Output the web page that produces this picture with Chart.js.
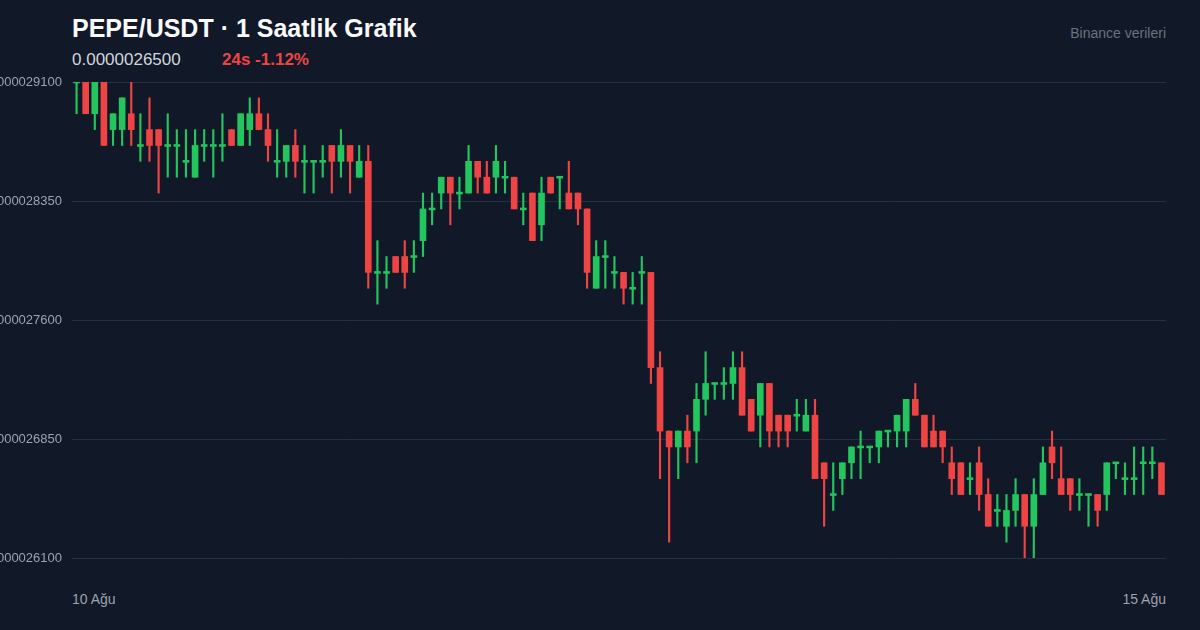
<!DOCTYPE html>
<html><head><meta charset="utf-8">
<script src="https://cdn.jsdelivr.net/npm/chart.js@4"></script>
<style>
html,body{margin:0;padding:0;background:#111827;width:1200px;height:630px;overflow:hidden;font-family:"Liberation Sans",Arial,sans-serif}
#c{position:absolute;left:-30px;top:0}
.t{position:absolute;white-space:nowrap}
</style></head><body>
<div class="t" style="left:72px;top:14px;font-size:25px;font-weight:bold;color:#f9fafb">PEPE/USDT · 1 Saatlik Grafik</div>
<div class="t" style="left:72px;top:50px;font-size:17px;color:#d1d5db">0.0000026500</div>
<div class="t" style="left:222px;top:50px;font-size:17px;font-weight:bold;color:#ef4444">24s -1.12%</div>
<div class="t" style="right:34px;top:25px;font-size:14px;color:#6b7280">Binance verileri</div>
<div class="t" id="xl0" style="left:72px;top:591px;font-size:14px;color:#9ca3af"></div>
<div class="t" id="xl1" style="right:34px;top:591px;font-size:14px;color:#9ca3af"></div>
<canvas id="c" width="1196" height="630"></canvas>
<script>
// prices in units of 1e-8 (291 = 0.0000029100)
const opens=[291,291,289,291,288,288,289,287,288,288,287,287,286,285,287,287,287,288,287,288,289,288,286,286,287,286,286,286,287,286,287,285,286,279,279,280,280,280,281,283,284,285,284,284,286,285,285,285,285,283,284,282,285,285,284,284,283,278,280,279,279,278,279,279,273,269,268,269,269,271,272,272,272,273,271,270,272,270,270,270,269,270,267,265,266,267,268,268,268,269,269,269,271,270,269,269,267,267,266,267,265,264,263,264,265,263,265,268,266,266,265,265,265,265,267,266,266,267,267,267];
const closes=[291,289,291,287,289,290,288,287,287,287,287,287,286,287,287,287,287,287,289,289,288,287,286,287,286,286,286,286,286,287,286,286,279,279,279,279,279,280,283,283,285,284,284,286,285,284,286,285,283,283,281,284,284,285,283,283,279,280,280,279,278,278,279,273,269,268,269,268,271,272,272,272,273,270,269,272,269,269,269,270,270,266,266,265,267,268,268,268,269,269,270,271,270,268,268,268,266,265,266,265,263,264,264,265,263,265,267,267,265,265,265,265,264,267,267,266,266,267,267,265];
const highs=[292,292,292,292,289,290,291,289,290,288,289,288,288,288,288,288,289,288,289,290,290,289,288,287,288,287,286,287,287,288,287,287,287,281,280,280,281,281,284,284,285,285,285,287,286,286,287,286,285,284,284,285,285,285,286,284,283,281,281,280,279,279,280,279,274,269,269,270,272,274,272,273,274,274,271,272,272,270,270,271,271,271,267,267,267,268,269,268,269,269,270,271,272,270,270,269,268,267,267,268,266,265,265,266,265,266,268,269,268,266,266,265,265,267,267,267,268,268,268,267];
const lows=[289,289,288,287,287,287,287,286,286,284,285,285,285,285,286,285,286,287,287,287,288,286,285,285,285,284,284,285,284,285,284,285,278,277,278,279,278,279,280,282,283,282,283,284,284,284,284,284,283,282,281,281,284,283,283,282,278,278,278,278,277,277,277,272,266,262,266,267,267,270,271,271,271,270,269,268,268,268,268,269,269,266,263,264,265,266,266,267,267,268,268,268,270,268,268,267,265,265,265,264,263,263,262,263,261,261,265,266,265,264,264,263,263,264,266,265,265,265,266,265];
const yTicks=[291,283.5,276,268.5,261];
const xLabels=["10 Ağu","15 Ağu"];
document.getElementById('xl0').textContent=xLabels[0];
document.getElementById('xl1').textContent=xLabels[1];
const G='#22c55e',R='#ef4444';
const labels=opens.map((_,i)=>i);
const cols=opens.map((o,i)=>closes[i]>=o?G:R);
const bodies=opens.map((o,i)=>o===closes[i]?[o-0.06,o+0.06]:[o,closes[i]]);
const wicks=opens.map((o,i)=>[lows[i],highs[i]]);
new Chart(document.getElementById('c'),{
 type:'bar',
 data:{labels,datasets:[
  {data:bodies,backgroundColor:cols,barThickness:6,grouped:false,order:1},
  {data:wicks,backgroundColor:cols,barThickness:1.5,grouped:false,order:2}
 ]},
 options:{responsive:false,animation:false,
  layout:{padding:{top:82,bottom:72,right:0,left:0}},
  plugins:{legend:{display:false},tooltip:{enabled:false}},
  scales:{
   x:{display:false,offset:true},
   y:{min:261,max:291,
    afterBuildTicks:a=>{a.ticks=yTicks.map(v=>({value:v}));},
    afterFit:a=>{a.width=102;},
    grid:{color:'#253041',drawTicks:false},border:{display:false},
    ticks:{padding:10,color:'#9ca3af',font:{size:13,family:'Liberation Sans'},callback:v=>(v*1e-8).toFixed(10)}}
  }}
});
</script></body></html>
